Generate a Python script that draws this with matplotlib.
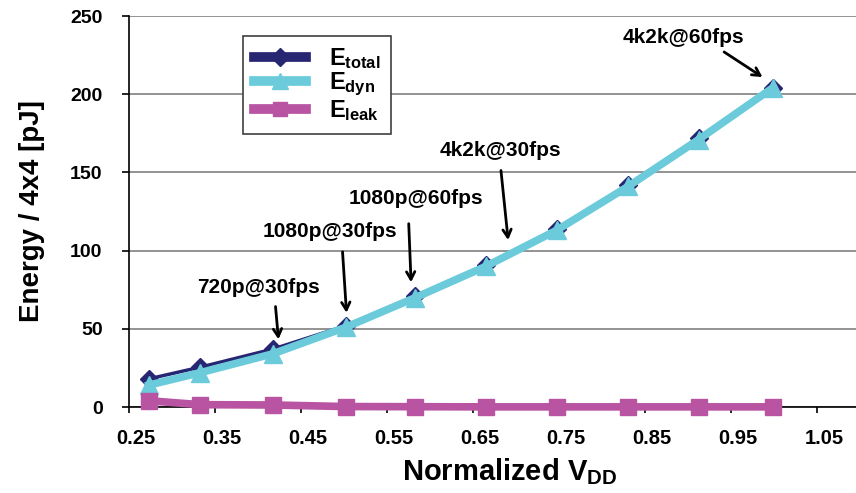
import matplotlib
matplotlib.use("Agg")
import matplotlib.pyplot as plt
import matplotlib.transforms as mtransforms
from matplotlib.lines import Line2D

plt.rcParams['font.family'] = ['Liberation Sans', 'DejaVu Sans']
plt.rcParams['font.weight'] = 'bold'
plt.rcParams['mathtext.fontset'] = 'custom'
plt.rcParams['mathtext.rm'] = 'Liberation Sans:bold'
plt.rcParams['mathtext.it'] = 'Liberation Sans:bold'
plt.rcParams['mathtext.bf'] = 'Liberation Sans:bold'

# normalized supply voltage and energy per 4x4 block (pJ)
vdd = [0.273, 0.333, 0.417, 0.502, 0.583, 0.665, 0.747, 0.83, 0.912, 0.998]
e_total = [18, 25.5, 37, 52, 71, 91, 114, 142, 172, 204]
e_dyn = [14, 22, 34, 51, 70, 90, 113, 141, 171, 204]
e_leak = [4, 1.5, 1.3, 0.3, 0.2, 0.1, 0.1, 0.1, 0.1, 0.1]

# annotations: label, arrow tip, arrow tail, text position
labels = ["720p@30fps", "1080p@30fps", "1080p@60fps", "4k2k@30fps", "4k2k@60fps"]
tips = [(0.424, 41.5), (0.503, 58.5), (0.578, 78), (0.691, 105), (0.989, 210)]
tails = [(0.420, 66), (0.498, 101), (0.575, 119), (0.682, 153), (0.939, 228)]
text_pos = [(0.401, 76.5), (0.484, 112), (0.584, 133.5), (0.682, 164), (0.895, 236)]

navy = '#262673'
cyan = '#6CCBDB'
magenta = '#B854A2'

fig = plt.figure(figsize=(8.56, 4.93), dpi=100)
ax = fig.add_axes([0.1507, 0.1744, 0.8493, 0.7931])

ax.plot(vdd, e_total, color=navy, lw=2.5, marker='D', ms=9, mec=navy, mfc=navy, zorder=3)
ax.plot(vdd, e_dyn, color=cyan, lw=5.5, marker='^', ms=13, mec=cyan, mfc=cyan, zorder=4)
ax.plot(vdd, e_leak, color=magenta, lw=5.5, marker='s', ms=12, mec=magenta, mfc=magenta,
        zorder=4, clip_on=False)

for lab, tip, tail, tp in zip(labels, tips, tails, text_pos):
    ax.annotate('', xy=tip, xytext=tail,
                arrowprops=dict(arrowstyle='->,head_length=0.55,head_width=0.3',
                                color='black', lw=2), zorder=5)
    ax.text(tp[0], tp[1], lab, ha='center', va='center', fontsize=15,
            fontweight='bold', zorder=6)

ax.set_xlim(0.25, 1.095)
ax.set_ylim(0, 250)
ax.set_xticks([0.25, 0.35, 0.45, 0.55, 0.65, 0.75, 0.85, 0.95, 1.05])
ax.set_xticklabels(['0.25', '0.35', '0.45', '0.55', '0.65', '0.75', '0.85', '0.95', '1.05'])
ax.set_yticks([0, 50, 100, 150, 200, 250])

ax.yaxis.grid(True, color='#808080', lw=1.2)
ax.set_axisbelow(True)
for s in ['top', 'right']:
    ax.spines[s].set_visible(False)
ax.spines['left'].set_color('black')
ax.spines['bottom'].set_color('black')
ax.spines['left'].set_linewidth(1.2)
ax.spines['bottom'].set_linewidth(1.2)

ax.tick_params(axis='y', direction='out', length=5, width=1.2, pad=14, labelsize=14)
ax.tick_params(axis='x', direction='out', length=4, width=1.2, pad=12, labelsize=14.5)

# x tick labels sit slightly right of their ticks in the original
shift = mtransforms.ScaledTranslation(5 / 72, 0, fig.dpi_scale_trans)
for t in ax.get_xticklabels():
    t.set_transform(t.get_transform() + shift)

ax.set_ylabel('Energy / 4x4 [pJ]', fontsize=20, fontweight='bold', labelpad=18)
ax.set_xlabel(r'Normalized V$_{DD}$', fontsize=21, fontweight='bold')
ax.xaxis.set_label_coords(0.524, -0.125)

handles = [
    Line2D([], [], color=navy, lw=7, marker='D', ms=9, mec=navy, mfc=navy),
    Line2D([], [], color=cyan, lw=7, marker='^', ms=11, mec=cyan, mfc=cyan),
    Line2D([], [], color=magenta, lw=7, marker='s', ms=10, mec=magenta, mfc=magenta),
]
leg = ax.legend(handles, [r'$E_{total}$', r'$E_{dyn}$', r'$E_{leak}$'],
                loc='upper left', bbox_to_anchor=(0.157, 0.95), fontsize=17,
                frameon=True, fancybox=False, edgecolor='#404040', framealpha=1,
                handlelength=2.2, handletextpad=1.0, labelspacing=0.0,
                borderpad=0.45, borderaxespad=0)
leg.get_frame().set_linewidth(1.2)
leg.set_zorder(10)

fig.savefig('out.png', dpi=100)
